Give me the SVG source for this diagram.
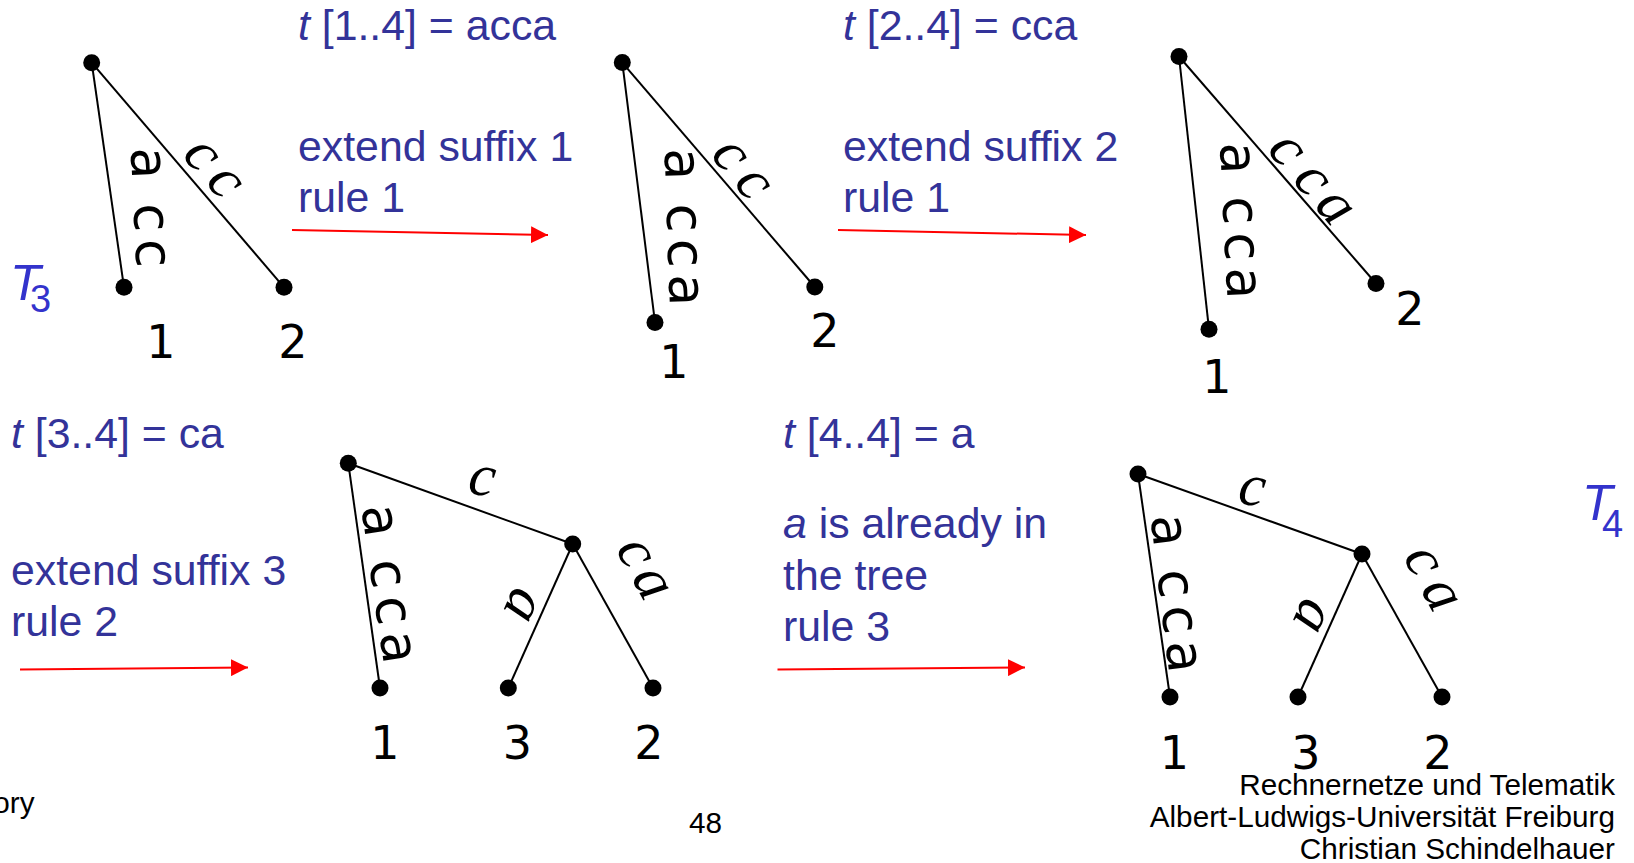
<svg xmlns="http://www.w3.org/2000/svg" width="1634" height="863" viewBox="0 0 1634 863">
<defs>
<marker id="ah" viewBox="0 0 16 16" refX="16" refY="8" markerWidth="17" markerHeight="17" markerUnits="userSpaceOnUse" orient="auto">
<path d="M0,0 L16,8 L0,16 Z" fill="#ff0000"/>
</marker>
<style>
.blue{font-family:"Liberation Sans",Arial,sans-serif;font-size:42.8px;fill:#333399}
.it{font-style:italic}
.T{font-family:"Liberation Sans",Arial,sans-serif;fill:#3333cc}
.num{font-family:"DejaVu Sans",sans-serif;font-size:46px;fill:#000;text-anchor:middle}
.lab{font-family:"DejaVu Sans",sans-serif;font-size:52px;fill:#000}
.ilab{font-family:"Liberation Serif","Times New Roman",serif;font-style:italic;font-size:60px;fill:#000}
.edge{stroke:#000;stroke-width:2;fill:none}
.dot{fill:#000}
.arrow{stroke:#ff0000;stroke-width:2;fill:none;marker-end:url(#ah)}
.foot{font-family:"Liberation Sans",Arial,sans-serif;font-size:29.7px;fill:#000}
</style>
</defs>
<rect width="1634" height="863" fill="#fff"/>

<g id="connectors">
<line class="edge" x1="91.7" y1="62.7" x2="124" y2="287.3"/>
<line class="edge" x1="91.7" y1="62.7" x2="284" y2="287.3"/>
<line class="edge" x1="622.3" y1="62.6" x2="655" y2="322.5"/>
<line class="edge" x1="622.3" y1="62.6" x2="814.8" y2="287"/>
<line class="edge" x1="1179" y1="56.5" x2="1209" y2="329.3"/>
<line class="edge" x1="1179" y1="56.5" x2="1376" y2="283.5"/>
<line class="edge" x1="348.3" y1="463.3" x2="572.7" y2="544"/>
<line class="edge" x1="348.3" y1="463.3" x2="380" y2="688"/>
<line class="edge" x1="572.7" y1="544" x2="508.3" y2="688"/>
<line class="edge" x1="572.7" y1="544" x2="653" y2="688"/>
<line class="edge" x1="1138" y1="474" x2="1362" y2="554"/>
<line class="edge" x1="1138" y1="474" x2="1170" y2="697"/>
<line class="edge" x1="1362" y1="554" x2="1298" y2="697"/>
<line class="edge" x1="1362" y1="554" x2="1442" y2="697"/>
<line class="arrow" x1="292" y1="230" x2="548" y2="235"/>
<line class="arrow" x1="838" y1="230" x2="1086" y2="235"/>
<line class="arrow" x1="20" y1="669.5" x2="248" y2="667.5"/>
<line class="arrow" x1="777.5" y1="669.5" x2="1025" y2="667.5"/>
</g>

<g id="edge-labels">
<text class="lab" transform="translate(145.8,163.3) rotate(87.3)" y="14.2"><tspan x="-15.9">a </tspan><tspan x="40">c </tspan><tspan x="75.8">c</tspan></text>
<text class="ilab" transform="translate(200,156.7) rotate(48.8)" y="13.5"><tspan x="-13.3">c </tspan><tspan x="22.1">c</tspan></text>

<text class="lab" transform="translate(679.2,164.2) rotate(88)" y="14.2"><tspan x="-15.9">a </tspan><tspan x="39.5">c </tspan><tspan x="74.8">c </tspan><tspan x="110">a</tspan></text>
<text class="ilab" transform="translate(728.3,156.7) rotate(50.4)" y="13.5"><tspan x="-13.3">c </tspan><tspan x="23.4">c</tspan></text>

<text class="lab" transform="translate(1235,158.3) rotate(87.3)" y="14.2"><tspan x="-15.9">a </tspan><tspan x="38.2">c </tspan><tspan x="74.2">c </tspan><tspan x="109.2">a</tspan></text>
<text class="ilab" transform="translate(1285,151.7) rotate(49.5)" y="13.5"><tspan x="-13.3">c </tspan><tspan x="25.6">c </tspan><tspan x="59.4">a</tspan></text>

<text class="ilab" transform="translate(481.7,481.7) rotate(8)" y="13.5" x="-13.3">c</text>
<text class="lab" transform="translate(377.5,520.8) rotate(81.8)" y="14.2"><tspan x="-15.9">a </tspan><tspan x="39.3">c </tspan><tspan x="76.5">c </tspan><tspan x="112">a</tspan></text>
<text class="ilab" transform="translate(520.8,604.2) rotate(114)" y="13.5" x="-15">a</text>
<text class="ilab" transform="translate(633.3,554) rotate(61)" y="13.5"><tspan x="-13.3">c </tspan><tspan x="19.3">a</tspan></text>

<text class="ilab" transform="translate(1251.7,491.7) rotate(8)" y="13.5" x="-13.3">c</text>
<text class="lab" transform="translate(1166.5,530.5) rotate(83.2)" y="14.2"><tspan x="-15.9">a </tspan><tspan x="39.3">c </tspan><tspan x="75.7">c </tspan><tspan x="111.1">a</tspan></text>
<text class="ilab" transform="translate(1310,615) rotate(114)" y="13.5" x="-15">a</text>
<text class="ilab" transform="translate(1420.7,562.3) rotate(61.3)" y="13.5"><tspan x="-13.3">c </tspan><tspan x="23">a</tspan></text>
</g>

<g id="A-root"><circle class="dot" cx="91.7" cy="62.7" r="8.5"/></g>
<g id="A-leaf1"><circle class="dot" cx="124" cy="287.3" r="8.5"/><text class="num" x="161" y="358">1</text></g>
<g id="A-leaf2"><circle class="dot" cx="284" cy="287.3" r="8.5"/><text class="num" x="293" y="358">2</text></g>
<g id="B-root"><circle class="dot" cx="622.3" cy="62.6" r="8.5"/></g>
<g id="B-leaf1"><circle class="dot" cx="655" cy="322.5" r="8.5"/><text class="num" x="674" y="378">1</text></g>
<g id="B-leaf2"><circle class="dot" cx="814.8" cy="287" r="8.5"/><text class="num" x="825" y="346.5">2</text></g>
<g id="C-root"><circle class="dot" cx="1179" cy="56.5" r="8.5"/></g>
<g id="C-leaf1"><circle class="dot" cx="1209" cy="329.3" r="8.5"/><text class="num" x="1217" y="393">1</text></g>
<g id="C-leaf2"><circle class="dot" cx="1376" cy="283.5" r="8.5"/><text class="num" x="1410" y="325">2</text></g>
<g id="D-root"><circle class="dot" cx="348.3" cy="463.3" r="8.5"/></g>
<g id="D-inner"><circle class="dot" cx="572.7" cy="544" r="8.5"/></g>
<g id="D-leaf1"><circle class="dot" cx="380" cy="688" r="8.5"/><text class="num" x="385" y="758.5">1</text></g>
<g id="D-leaf3"><circle class="dot" cx="508.3" cy="688" r="8.5"/><text class="num" x="517.5" y="758.5">3</text></g>
<g id="D-leaf2"><circle class="dot" cx="653" cy="688" r="8.5"/><text class="num" x="649" y="758.5">2</text></g>
<g id="E-root"><circle class="dot" cx="1138" cy="474" r="8.5"/></g>
<g id="E-inner"><circle class="dot" cx="1362" cy="554" r="8.5"/></g>
<g id="E-leaf1"><circle class="dot" cx="1170" cy="697" r="8.5"/><text class="num" x="1174.5" y="769">1</text></g>
<g id="E-leaf3"><circle class="dot" cx="1298" cy="697" r="8.5"/><text class="num" x="1306" y="769">3</text></g>
<g id="E-leaf2"><circle class="dot" cx="1442" cy="697" r="8.5"/><text class="num" x="1438" y="769">2</text></g>

<g id="T3"><text class="T" x="10" y="299.5" font-size="50" font-style="italic">T</text><text class="T" x="30" y="312" font-size="38">3</text></g>
<g id="T4"><text class="T" x="1582" y="520" font-size="50" font-style="italic">T</text><text class="T" x="1602" y="537" font-size="38">4</text></g>

<g id="step1">
<text class="blue" x="298" y="40"><tspan class="it">t</tspan> [1..4] = acca</text>
<text class="blue" x="298" y="160.7">extend suffix 1</text>
<text class="blue" x="298" y="211.5">rule 1</text>
</g>
<g id="step2">
<text class="blue" x="843" y="40"><tspan class="it">t</tspan> [2..4] = cca</text>
<text class="blue" x="843" y="160.7">extend suffix 2</text>
<text class="blue" x="843" y="211.5">rule 1</text>
</g>
<g id="step3">
<text class="blue" x="11" y="448"><tspan class="it">t</tspan> [3..4] = ca</text>
<text class="blue" x="11" y="584.5">extend suffix 3</text>
<text class="blue" x="11" y="635.5">rule 2</text>
</g>
<g id="step4">
<text class="blue" x="783" y="448"><tspan class="it">t</tspan> [4..4] = a</text>
<text class="blue" x="783" y="538"><tspan class="it">a</tspan> is already in</text>
<text class="blue" x="783" y="589.5">the tree</text>
<text class="blue" x="783" y="641">rule 3</text>
</g>

<g id="footer">
<text class="foot" x="34.5" y="813" text-anchor="end">ory</text>
<text class="foot" x="705.5" y="833" font-size="42" text-anchor="middle">48</text>
<text class="foot" x="1615" y="794.5" text-anchor="end">Rechnernetze und Telematik</text>
<text class="foot" x="1615" y="826.5" text-anchor="end">Albert-Ludwigs-Universität Freiburg</text>
<text class="foot" x="1615" y="858.5" text-anchor="end">Christian Schindelhauer</text>
</g>
</svg>
